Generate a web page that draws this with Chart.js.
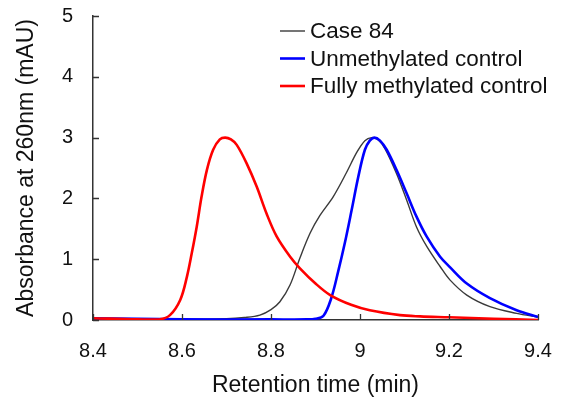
<!DOCTYPE html>
<html>
<head>
<meta charset="utf-8">
<script src="https://cdn.jsdelivr.net/npm/chart.js@4.4.0/dist/chart.umd.min.js"></script>
<style>
  html, body { margin: 0; padding: 0; background: #fff; }
  #wrap { width: 561px; height: 405px; }
</style>
</head>
<body>
<div id="wrap"><canvas id="grafico"></canvas></div>
<script>
const xTicks = [8.4, 8.6, 8.8, 9, 9.2, 9.4];
const xTickLabels = ['8.4', '8.6', '8.8', '9', '9.2', '9.4'];
const yTicks = [0, 1, 2, 3, 4, 5];
const yTickLabels = ['0', '1', '2', '3', '4', '5'];

const seriesLabels = ['Case 84', 'Unmethylated control', 'Fully methylated control'];

const caseTimes = [8.40, 8.60, 8.70, 8.74, 8.775, 8.80, 8.82, 8.843, 8.865, 8.888, 8.91, 8.94, 8.97, 8.993, 9.011, 9.026, 9.04, 9.056, 9.082, 9.105, 9.127, 9.15, 9.18, 9.202, 9.24, 9.292, 9.352, 9.40];
const caseValues = [0.01, 0.01, 0.02, 0.04, 0.08, 0.17, 0.30, 0.58, 1.02, 1.43, 1.72, 2.03, 2.43, 2.76, 2.95, 3.00, 2.97, 2.82, 2.41, 1.97, 1.53, 1.21, 0.88, 0.66, 0.41, 0.22, 0.11, 0.05];

const unmethTimes = [8.40, 8.60, 8.80, 8.88, 8.90, 8.918, 8.935, 8.951, 8.966, 8.981, 8.996, 9.011, 9.022, 9.032, 9.045, 9.06, 9.082, 9.105, 9.127, 9.15, 9.18, 9.202, 9.24, 9.292, 9.352, 9.40];
const unmethValues = [0.03, 0.01, 0.01, 0.01, 0.02, 0.07, 0.35, 0.80, 1.27, 1.80, 2.35, 2.80, 2.95, 3.00, 2.95, 2.80, 2.47, 2.08, 1.70, 1.37, 1.04, 0.87, 0.60, 0.36, 0.16, 0.05];

const methTimes = [8.40, 8.50, 8.55, 8.573, 8.596, 8.611, 8.622, 8.633, 8.644, 8.656, 8.67, 8.685, 8.697, 8.71, 8.723, 8.745, 8.768, 8.79, 8.813, 8.843, 8.865, 8.90, 8.933, 8.98, 9.022, 9.09, 9.135, 9.20, 9.30, 9.40];
const methValues = [0.03, 0.01, 0.01, 0.08, 0.33, 0.71, 1.10, 1.53, 2.03, 2.47, 2.80, 2.97, 3.00, 2.97, 2.88, 2.58, 2.19, 1.75, 1.37, 1.04, 0.85, 0.60, 0.41, 0.25, 0.16, 0.08, 0.06, 0.045, 0.02, 0.00];

function pontos(tempos, valores) {
    return tempos.map((t, i) => ({ x: t, y: valores[i] }));
}

// Zera o espaço extra que o Chart.js reserva para os rótulos nas bordas
function semPaddingExtra(scale) {
    scale.paddingTop = 0;
    scale.paddingBottom = 0;
    scale.paddingLeft = 0;
    scale.paddingRight = 0;
}

// Marcas de escala voltadas para dentro
const ticksInternos = {
    id: 'ticksInternos',
    afterDraw(chart) {
        const ctx = chart.ctx;
        const sx = chart.scales.x;
        const sy = chart.scales.y;
        const base = sy.getPixelForValue(0);
        const left = sx.getPixelForValue(8.4);
        ctx.save();
        ctx.strokeStyle = '#333';
        ctx.lineWidth = 1.3;
        ctx.beginPath();
        xTicks.forEach(v => {
            const px = Math.round(sx.getPixelForValue(v)) + 0.5;
            ctx.moveTo(px, base);
            ctx.lineTo(px, base - 6);
        });
        yTicks.forEach(v => {
            const py = Math.round(sy.getPixelForValue(v)) + 0.5;
            ctx.moveTo(left, py);
            ctx.lineTo(left + 6, py);
        });
        ctx.stroke();
        ctx.restore();
    }
};

// Legenda desenhada dentro da área do gráfico
const legendaInterna = {
    id: 'legendaInterna',
    afterDraw(chart) {
        const ctx = chart.ctx;
        const x0 = 280;
        const y0 = 31;
        const passo = 27.5;
        ctx.save();
        ctx.font = '22.5px "Liberation Sans", Arial, sans-serif';
        ctx.textBaseline = 'middle';
        chart.data.datasets.forEach((ds, i) => {
            const y = y0 + i * passo;
            ctx.strokeStyle = ds.borderColor;
            ctx.lineWidth = ds.borderWidth;
            ctx.beginPath();
            ctx.moveTo(x0, y);
            ctx.lineTo(x0 + 25, y);
            ctx.stroke();
            ctx.fillStyle = '#111';
            ctx.fillText(ds.label, x0 + 30, y + 1);
        });
        ctx.restore();
    }
};

const ctx = document.getElementById('grafico').getContext('2d');
const grafico = new Chart(ctx, {
    type: 'line',
    data: {
        datasets: [{
            label: seriesLabels[0],
            data: pontos(caseTimes, caseValues),
            borderColor: '#3a3a3a',
            borderWidth: 1.4,
            order: 3
        }, {
            label: seriesLabels[1],
            data: pontos(unmethTimes, unmethValues),
            borderColor: '#0000ff',
            borderWidth: 2.6,
            order: 2
        }, {
            label: seriesLabels[2],
            data: pontos(methTimes, methValues),
            borderColor: '#ff0000',
            borderWidth: 2.6,
            order: 1
        }]
    },
    options: {
        responsive: true,
        maintainAspectRatio: false,
        animation: false,
        layout: { padding: { top: 16, right: 23, left: 0, bottom: 0 } },
        elements: {
            point: { radius: 0 },
            line: { tension: 0.35, fill: false }
        },
        scales: {
            x: {
                type: 'linear',
                min: 8.4,
                max: 9.4,
                afterBuildTicks: scale => { scale.ticks = xTicks.map(v => ({ value: v })); },
                afterFit: scale => { scale.height = 85; semPaddingExtra(scale); },
                grid: { display: true, drawOnChartArea: false, drawTicks: false },
                border: { color: '#333', width: 1.5 },
                ticks: {
                    padding: 19,
                    color: '#111',
                    font: { family: '"Liberation Sans", Arial, sans-serif', size: 20 },
                    callback: (v) => xTickLabels[xTicks.findIndex(t => Math.abs(t - v) < 1e-6)]
                },
                title: {
                    display: true,
                    text: 'Retention time (min)',
                    color: '#111',
                    font: { family: '"Liberation Sans", Arial, sans-serif', size: 23 },
                    padding: { top: 4, bottom: 6 }
                }
            },
            y: {
                min: 0,
                max: 5,
                afterBuildTicks: scale => { scale.ticks = yTicks.map(v => ({ value: v })); },
                afterFit: scale => { scale.width = 93; semPaddingExtra(scale); },
                grid: { display: true, drawOnChartArea: false, drawTicks: false },
                border: { color: '#333', width: 1.5 },
                ticks: {
                    padding: 20,
                    color: '#111',
                    font: { family: '"Liberation Sans", Arial, sans-serif', size: 20 },
                    callback: (v) => yTickLabels[yTicks.indexOf(v)]
                },
                title: {
                    display: true,
                    text: 'Absorbance at 260nm (mAU)',
                    color: '#111',
                    font: { family: '"Liberation Sans", Arial, sans-serif', size: 23 },
                    padding: { top: 13, bottom: 0 }
                }
            }
        },
        plugins: {
            legend: { display: false },
            tooltip: { enabled: false }
        }
    },
    plugins: [ticksInternos, legendaInterna]
});
</script>
</body>
</html>
